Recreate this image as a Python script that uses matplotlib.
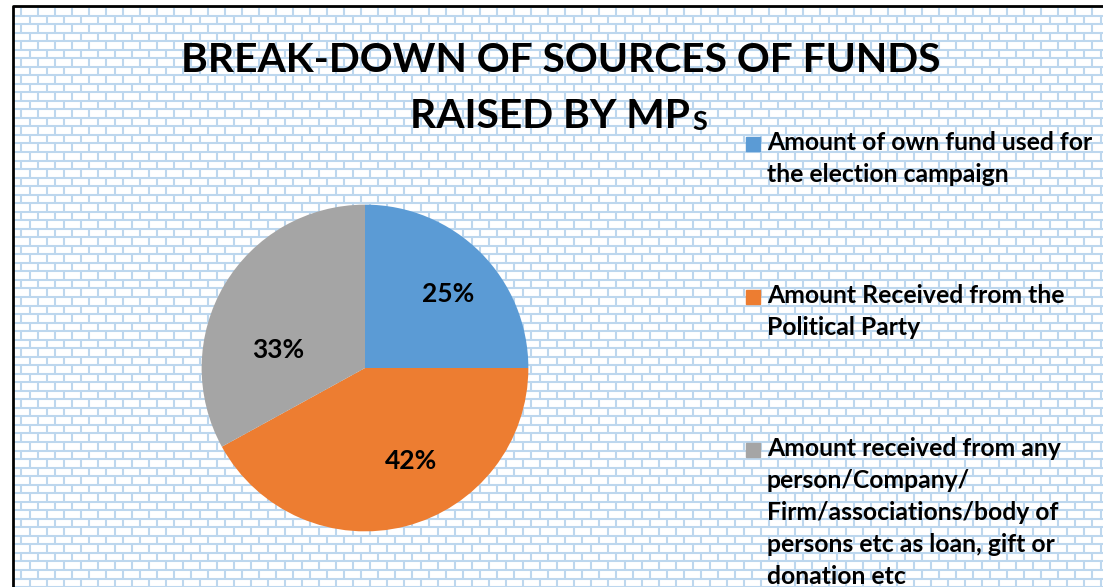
import matplotlib
matplotlib.use("Agg")
import matplotlib.pyplot as plt
from matplotlib.collections import LineCollection
from matplotlib.patches import Rectangle

W, H = 1103, 587

labels = ["Amount of own fund used for\nthe election campaign",
          "Amount Received from the\nPolitical Party",
          "Amount received from any\nperson/Company/\nFirm/associations/body of\npersons etc as loan, gift or\ndonation etc"]
shares = [25, 42, 33]
colors = ["#5B9BD5", "#ED7D31", "#A5A5A5"]
title1 = "BREAK-DOWN OF SOURCES OF FUNDS"
title2 = "RAISED BY MP"
title2_small = "S"

font = "Lato"

fig = plt.figure(figsize=(W / 100, H / 100), dpi=100)
bg = fig.add_axes([0, 0, 1, 1])
bg.set_xlim(0, W)
bg.set_ylim(H, 0)
bg.axis("off")

# brick background
brick_w, brick_h = 17.0, 8.53
x0, y0 = 14, 7
hsegs, vsegs = [], []
row = 0
y = y0
while y < H + brick_h:
    hsegs.append([(x0, y), (W, y)])
    off = 0 if row % 2 == 0 else brick_w / 2
    x = x0 + 7 + off
    while x < W:
        vsegs.append([(x, y), (x, y + brick_h)])
        x += brick_w
    y += brick_h
    row += 1
bg.add_collection(LineCollection(hsegs, colors="#BDD7EE", linewidths=1.5, zorder=1))
bg.add_collection(LineCollection(vsegs, colors="#BDD7EE", linewidths=1.5, zorder=1))

# frame
bg.plot([13, 13, W], [H, 6, 6], color="black", lw=2, solid_capstyle="butt")

# title
bg.text(561, 60, title1, ha="center", va="center", fontsize=29.3,
        fontweight="bold", family=font, color="black")
t2 = bg.text(550, 116, title2, ha="center", va="center", fontsize=29.3,
             fontweight="bold", family=font, color="black")
fig.canvas.draw()
bb = t2.get_window_extent()
bg.text(bb.x1 + 2, 122, title2_small, ha="left", va="center", fontsize=19.5,
        fontweight="bold", family=font, color="black")

# pie
cx, cy, r = 365, 368, 165
ax = fig.add_axes([(cx - r) / W, (H - cy - r) / H, 2 * r / W, 2 * r / H])
wedges, _, autotexts = ax.pie(shares, colors=colors, startangle=90, counterclock=False,
                              autopct="%1.0f%%", pctdistance=0.65,
                              textprops=dict(fontsize=19, fontweight="bold", family=font,
                                             color="black"))
ax.set_xlim(-1.01, 1.01)
ax.set_ylim(-1.01, 1.01)
ax.axis("off")
label_pos = [(0.51, 0.45), (0.28, -0.57), (-0.53, 0.11)]
for t, p in zip(autotexts, label_pos):
    t.set_position(p)

# legend
lx, ly, gap = 746, 144, 153
for i, (lab, col) in enumerate(zip(labels, colors)):
    yy = ly + i * gap
    bg.add_patch(Rectangle((lx, yy - 7), 14, 14, color=col, zorder=3))
    bg.text(lx + 21, yy - 13, lab, ha="left", va="top", fontsize=17.8,
            fontweight="bold", family=font, linespacing=1.47, color="black", zorder=3)

fig.savefig("out.png", dpi=100)
